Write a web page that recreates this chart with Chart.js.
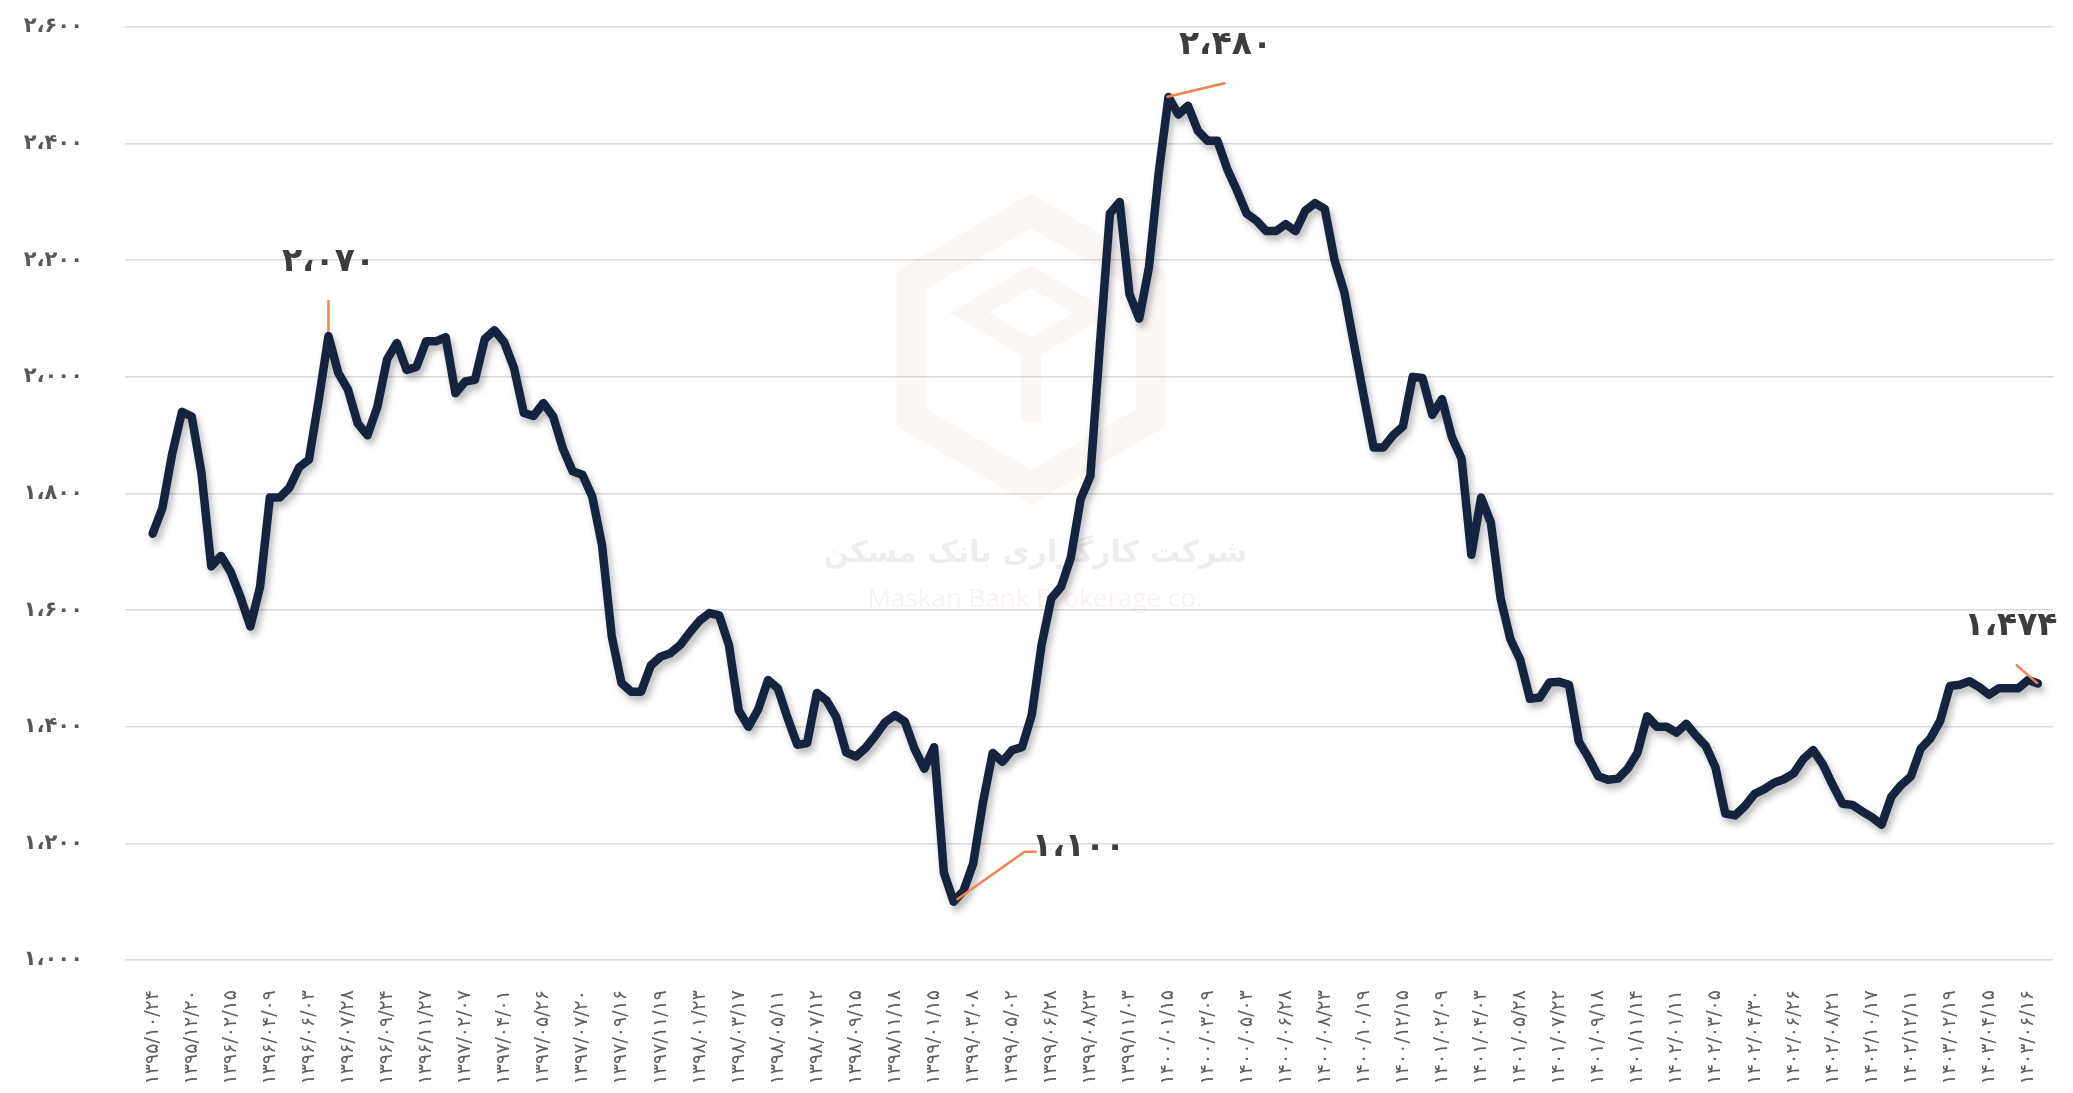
<!DOCTYPE html>
<html lang="fa">
<head>
<meta charset="utf-8">
<title>نمودار</title>
<script src="https://cdn.jsdelivr.net/npm/chart.js@4.4.1/dist/chart.umd.min.js"></script>
<style>
  html, body { margin: 0; padding: 0; background: #fff; }
  #wrap { width: 2073px; height: 1093px; position: relative; }
</style>
</head>
<body>
<div id="wrap"><canvas id="chart"></canvas></div>
<script>
// weekly series, one reading every 2 weeks, first point = ۱۳۹۵/۱۰/۲۴
const STEP_WEEKS = 2;
const LABEL_EVERY = 8;   // weeks between date labels

const dateLabels = [
  '۱۳۹۵/۱۰/۲۴','۱۳۹۵/۱۲/۲۰','۱۳۹۶/۰۲/۱۵','۱۳۹۶/۰۴/۰۹','۱۳۹۶/۰۶/۰۳','۱۳۹۶/۰۷/۲۸','۱۳۹۶/۰۹/۲۴',
  '۱۳۹۶/۱۱/۲۷','۱۳۹۷/۰۲/۰۷','۱۳۹۷/۰۴/۰۱','۱۳۹۷/۰۵/۲۶','۱۳۹۷/۰۷/۲۰','۱۳۹۷/۰۹/۱۶','۱۳۹۷/۱۱/۱۹',
  '۱۳۹۸/۰۱/۲۳','۱۳۹۸/۰۳/۱۷','۱۳۹۸/۰۵/۱۱','۱۳۹۸/۰۷/۱۲','۱۳۹۸/۰۹/۱۵','۱۳۹۸/۱۱/۱۸','۱۳۹۹/۰۱/۱۵',
  '۱۳۹۹/۰۳/۰۸','۱۳۹۹/۰۵/۰۲','۱۳۹۹/۰۶/۲۸','۱۳۹۹/۰۸/۲۳','۱۳۹۹/۱۱/۰۳','۱۴۰۰/۰۱/۱۵','۱۴۰۰/۰۳/۰۹',
  '۱۴۰۰/۰۵/۰۳','۱۴۰۰/۰۶/۲۸','۱۴۰۰/۰۸/۲۳','۱۴۰۰/۱۰/۱۹','۱۴۰۰/۱۲/۱۵','۱۴۰۱/۰۲/۰۹','۱۴۰۱/۰۴/۰۳',
  '۱۴۰۱/۰۵/۲۸','۱۴۰۱/۰۷/۲۲','۱۴۰۱/۰۹/۱۸','۱۴۰۱/۱۱/۱۴','۱۴۰۲/۰۱/۱۱','۱۴۰۲/۰۳/۰۵','۱۴۰۲/۰۴/۳۰',
  '۱۴۰۲/۰۶/۲۶','۱۴۰۲/۰۸/۲۱','۱۴۰۲/۱۰/۱۷','۱۴۰۲/۱۲/۱۱','۱۴۰۳/۰۲/۱۹','۱۴۰۳/۰۴/۱۵','۱۴۰۳/۰۶/۱۶'
];

// one row per date-label interval (4 readings)
const values = [
  1731,1775,1868,1940,  1932,1835,1675,1693,  1665,1622,1572,1640,  1793,1793,1810,1845,
  1858,1960,2070,2007,  1978,1920,1900,1948,  2030,2058,2012,2017,  2061,2061,2068,1972,
  1992,1995,2065,2080,  2059,2015,1938,1933,  1955,1932,1877,1838,  1832,1795,1712,1555,
  1475,1460,1460,1505,  1520,1526,1540,1562,  1582,1595,1591,1540,  1428,1400,1430,1480,
  1466,1415,1369,1372,  1458,1445,1416,1356,  1349,1364,1385,1408,  1420,1409,1362,1328,
  1365,1150,1100,1118,  1165,1270,1355,1340,  1360,1365,1420,1540,  1620,1640,1690,1790,
  1830,2060,2280,2300,  2142,2100,2188,2350,  2480,2450,2465,2422,  2405,2405,2357,2320,
  2280,2268,2250,2250,  2262,2250,2285,2298,  2288,2200,2145,2055,  1966,1879,1879,1900,
  1915,2000,1998,1935,  1962,1897,1860,1695,  1793,1750,1620,1550,  1515,1448,1450,1476,
  1477,1472,1375,1347,  1315,1309,1311,1328,  1355,1418,1400,1400,  1390,1405,1385,1367,
  1330,1251,1248,1264,  1285,1293,1304,1310,  1320,1345,1360,1335,  1300,1268,1266,1255,
  1245,1232,1280,1300,  1315,1362,1380,1410,  1470,1472,1478,1468,  1455,1466,1466,1466,
  1480,1474
];

// y axis ticks
const yMin = 1000, yMax = 2600, yStep = 200;

// highlighted points (week index, value)
const calloutWeeks  = [36, 208, 164, 386];
const calloutValues = [2070, 2480, 1100, 1474];

const WATERMARK_FA = 'شرکت کارگزاری بانک مسکن';
const WATERMARK_EN = 'Maskan Bank Brokerage co.';

const FA_DIGITS = '۰۱۲۳۴۵۶۷۸۹';
function toFa(n) {
  const s = Math.round(n).toString().replace(/\B(?=(\d{3})+(?!\d))/g, '،');
  return s.replace(/\d/g, d => FA_DIGITS[d]);
}

// leader line + label offsets (px) from each highlighted point
const calloutStyle = [
  { path: [[0, -4], [0, -36]],              text: [0, -74] },
  { path: [[-2, 0], [57, -14]],             text: [57, -52] },
  { path: [[3, -2], [71, -50], [83, -50]],  text: [125, -54] },
  { path: [[0, 0], [-22, -19]],             text: [-27, -57] },
];

function hexPath(ctx, cx, cy, r) {
  ctx.beginPath();
  for (let i = 0; i < 6; i++) {
    const a = Math.PI / 180 * (60 * i - 90);
    const px = cx + r * Math.cos(a), py = cy + r * Math.sin(a);
    i ? ctx.lineTo(px, py) : ctx.moveTo(px, py);
  }
  ctx.closePath();
}

const watermark = {
  id: 'watermark',
  beforeDatasetsDraw(chart) {
    const { ctx, chartArea: a } = chart;
    const cx = a.left + (a.right - a.left) * 0.47;
    const cy = a.top + (a.bottom - a.top) * 0.345;
    ctx.save();
    // logo: hexagon ring + cube
    ctx.strokeStyle = 'rgba(215,130,120,0.07)';
    ctx.lineWidth = 30;
    ctx.lineJoin = 'miter';
    hexPath(ctx, cx, cy, 138);
    ctx.stroke();
    ctx.lineWidth = 20;
    ctx.beginPath();
    ctx.moveTo(cx - 62, cy - 36);
    ctx.lineTo(cx, cy - 72);
    ctx.lineTo(cx + 62, cy - 36);
    ctx.lineTo(cx, cy);
    ctx.closePath();
    ctx.moveTo(cx, cy);
    ctx.lineTo(cx, cy + 72);
    ctx.stroke();

    ctx.textAlign = 'center';
    ctx.textBaseline = 'middle';
    ctx.fillStyle = 'rgba(0,0,0,0.07)';
    ctx.font = 'bold 30px "DejaVu Sans"';
    ctx.fillText(WATERMARK_FA, cx + 4, a.top + (a.bottom - a.top) * 0.565);
    ctx.fillStyle = 'rgba(215,130,120,0.11)';
    ctx.font = '26px "Open Sans"';
    ctx.fillText(WATERMARK_EN, cx + 4, a.top + (a.bottom - a.top) * 0.614);
    ctx.restore();
  }
};

const lineShadow = {
  id: 'lineShadow',
  beforeDatasetDraw(chart) {
    const c = chart.ctx;
    c.save();
    c.shadowColor = 'rgba(0,0,0,0.28)';
    c.shadowBlur = 7;
    c.shadowOffsetX = 3;
    c.shadowOffsetY = 5;
  },
  afterDatasetDraw(chart) { chart.ctx.restore(); }
};

const callouts = {
  id: 'callouts',
  afterDatasetsDraw(chart) {
    const { ctx, scales: { x, y } } = chart;
    ctx.save();
    calloutWeeks.forEach((w, i) => {
      const px = x.getPixelForValue(w), py = y.getPixelForValue(calloutValues[i]);
      const st = calloutStyle[i];
      ctx.strokeStyle = '#f0834f';
      ctx.lineWidth = 2.5;
      ctx.beginPath();
      st.path.forEach(([dx, dy], k) => k ? ctx.lineTo(px + dx, py + dy) : ctx.moveTo(px + dx, py + dy));
      ctx.stroke();
      ctx.fillStyle = '#3d3d3d';
      ctx.font = 'bold 33px "DejaVu Sans"';
      ctx.textAlign = 'center';
      ctx.textBaseline = 'middle';
      ctx.fillText(toFa(calloutValues[i]), px + st.text[0], py + st.text[1]);
    });
    ctx.restore();
  }
};

Chart.defaults.font.family = '"DejaVu Sans", sans-serif';

new Chart(document.getElementById('chart'), {
  type: 'line',
  data: {
    datasets: [{
      data: values.map((v, i) => ({ x: i * STEP_WEEKS, y: v })),
      borderColor: '#15233f',
      borderWidth: 8.5,
      pointRadius: 0,
      tension: 0,
      borderJoinStyle: 'round',
      borderCapStyle: 'round',
      clip: false,
    }]
  },
  options: {
    responsive: true,
    maintainAspectRatio: false,
    animation: false,
    layout: { padding: { top: 27, right: 8, bottom: 0, left: 0 } },
    plugins: { legend: { display: false }, tooltip: { enabled: false } },
    scales: {
      x: {
        type: 'linear',
        min: -5.66,
        max: 389.1,
        grid: { display: false },
        border: { display: false },
        afterBuildTicks: axis => {
          axis.ticks = dateLabels.map((_, k) => ({ value: k * LABEL_EVERY }));
        },
        afterFit: axis => { axis.height = 133; },
        ticks: {
          autoSkip: false,
          maxRotation: 90,
          minRotation: 90,
          padding: 22,
          color: '#5f5f5f',
          font: { size: 19 },
          callback: v => dateLabels[Math.round(v / LABEL_EVERY)] ?? ''
        }
      },
      y: {
        min: yMin,
        max: yMax,
        // invisible tick marks push the labels away from the grid
        grid: { color: '#dadada', lineWidth: 1.6, drawTicks: true, tickLength: 38, tickColor: 'rgba(0,0,0,0)' },
        border: { display: false },
        afterFit: axis => { axis.width = 125; },
        ticks: {
          stepSize: yStep,
          padding: 4,
          color: '#585858',
          font: { size: 21, weight: 'bold' },
          callback: v => toFa(v)
        }
      }
    }
  },
  plugins: [watermark, lineShadow, callouts]
});
</script>
</body>
</html>
